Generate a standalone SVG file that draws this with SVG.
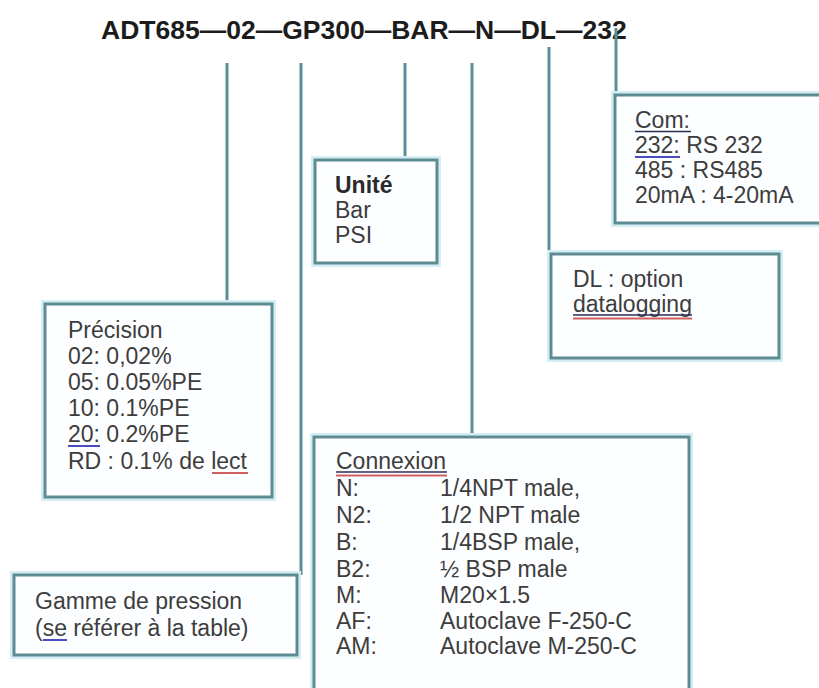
<svg xmlns="http://www.w3.org/2000/svg" width="819" height="688" viewBox="0 0 819 688">
<defs>
<style>
.bg{fill:#ffffff}
.box{fill:#fcfeff;stroke:#5f8b92;stroke-width:3}
.halo{fill:none;stroke:#d3eef5;stroke-width:8}
.con{fill:none;stroke:#5b8e98;stroke-width:3}
.title{font-family:"Liberation Sans",Arial,sans-serif;font-size:26.5px;font-weight:bold;fill:#1c1c1c}
.t{font-family:"Liberation Sans",Arial,sans-serif;font-size:23px;fill:#3d3d3d}
.b{font-weight:bold;fill:#2a2a2a}
.ul{stroke:#2e2e55;stroke-width:1.6}
.blue{stroke:#4b4bc0;stroke-width:2}
.red{stroke:#d06060;stroke-width:2}
</style>
</defs>
<rect class="bg" x="0" y="0" width="819" height="688"/>
<text class="title" x="101" y="39">ADT685—02—GP300—BAR—N—DL—232</text>
<g id="connectors">
<path class="con" d="M227 63 V304"/>
<path class="con" d="M301 63 V575"/>
<path class="con" d="M405 63 V160"/>
<path class="con" d="M472 63 V437"/>
<path class="con" d="M549 47 V254"/>
<path class="con" d="M616 28 V96"/>
</g>
<g id="com">
<rect class="halo" x="615" y="95" width="215" height="128"/>
<rect class="box" x="615" y="95" width="215" height="128"/>
<text class="t" x="635" y="128">Com:</text>
<line class="ul" x1="635" y1="131.5" x2="691" y2="131.5"/>
<text class="t" x="635" y="153">232: RS 232</text>
<line class="blue" x1="635" y1="157" x2="680" y2="157"/>
<text class="t" x="635" y="178">485 : RS485</text>
<text class="t" x="635" y="203">20mA : 4-20mA</text>
</g>
<g id="unite">
<rect class="halo" x="315" y="160" width="122" height="103"/>
<rect class="box" x="315" y="160" width="122" height="103"/>
<text class="t b" x="335" y="193">Unité</text>
<text class="t" x="335" y="218">Bar</text>
<text class="t" x="335" y="243">PSI</text>
</g>
<g id="dl">
<rect class="halo" x="551" y="254" width="228" height="104"/>
<rect class="box" x="551" y="254" width="228" height="104"/>
<text class="t" x="573" y="287">DL : option</text>
<text class="t" x="573" y="312">datalogging</text>
<line class="ul" x1="573" y1="315" x2="692" y2="315"/>
<line class="red" x1="573" y1="318.5" x2="692" y2="318.5"/>
</g>
<g id="precision">
<rect class="halo" x="45" y="304" width="227" height="193"/>
<rect class="box" x="45" y="304" width="227" height="193"/>
<text class="t" x="68" y="338">Précision</text>
<text class="t" x="68" y="364">02: 0,02%</text>
<text class="t" x="68" y="390">05: 0.05%PE</text>
<text class="t" x="68" y="416">10: 0.1%PE</text>
<text class="t" x="68" y="442">20: 0.2%PE</text>
<line class="blue" x1="68" y1="446" x2="100" y2="446"/>
<text class="t" x="68" y="469">RD : 0.1% de lect</text>
<line class="red" x1="212" y1="473" x2="248" y2="473"/>
</g>
<g id="gamme">
<rect class="halo" x="14" y="575" width="283" height="80"/>
<rect class="box" x="14" y="575" width="283" height="80"/>
<text class="t" x="35" y="609">Gamme de pression</text>
<text class="t" x="35" y="636">(se référer à la table)</text>
<line class="blue" x1="43" y1="640" x2="67" y2="640"/>
</g>
<g id="connexion">
<rect class="halo" x="314" y="437" width="375" height="270"/>
<rect class="box" x="314" y="437" width="375" height="270"/>
<text class="t" x="336" y="469">Connexion</text>
<line class="ul" x1="336" y1="472" x2="447" y2="472"/>
<line class="red" x1="336" y1="475.5" x2="447" y2="475.5"/>
<text class="t" x="336" y="496">N:</text><text class="t" x="440" y="496">1/4NPT male,</text>
<text class="t" x="336" y="523">N2:</text><text class="t" x="440" y="523">1/2 NPT male</text>
<text class="t" x="336" y="550">B:</text><text class="t" x="440" y="550">1/4BSP male,</text>
<text class="t" x="336" y="577">B2:</text><text class="t" x="440" y="577">½ BSP male</text>
<text class="t" x="336" y="603">M:</text><text class="t" x="440" y="603">M20×1.5</text>
<text class="t" x="336" y="629">AF:</text><text class="t" x="440" y="629">Autoclave F-250-C</text>
<text class="t" x="336" y="654">AM:</text><text class="t" x="440" y="654">Autoclave M-250-C</text>
</g>
</svg>
